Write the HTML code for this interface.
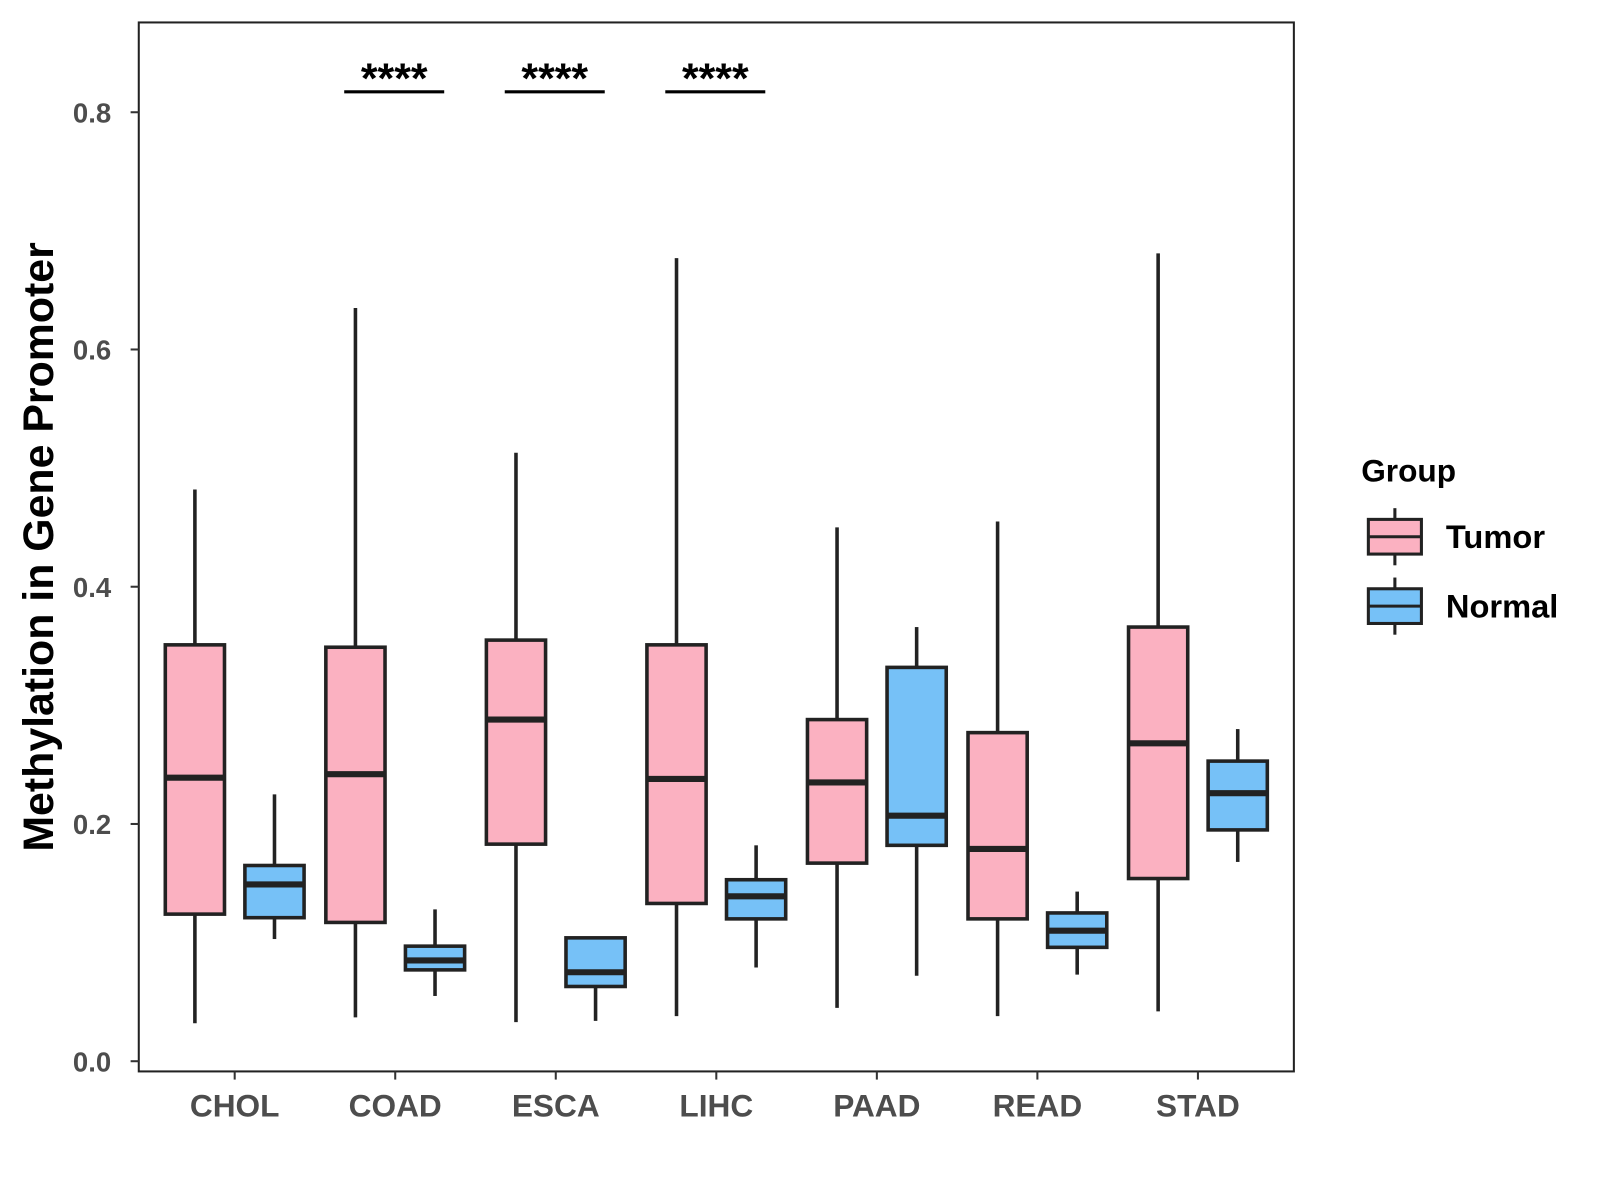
<!DOCTYPE html>
<html><head><meta charset="utf-8"><style>
html,body{margin:0;padding:0;background:#fff;}
svg{display:block;font-family:"Liberation Sans",Arial,sans-serif;font-weight:bold;}
</style></head><body>
<svg width="1600" height="1200" viewBox="0 0 1600 1200"><g id="chart" transform="scale(1.0204)"></g></svg>
<script>
const categories=["CHOL","COAD","ESCA","LIHC","PAAD","READ","STAD"];
const tumorLow=[0.032,0.037,0.033,0.038,0.045,0.038,0.042];
const tumorQ1=[0.124,0.117,0.183,0.133,0.167,0.120,0.154];
const tumorMed=[0.239,0.242,0.288,0.238,0.235,0.179,0.268];
const tumorQ3=[0.351,0.349,0.355,0.351,0.288,0.277,0.366];
const tumorHigh=[0.482,0.635,0.513,0.677,0.450,0.455,0.681];
const normalLow=[0.103,0.055,0.034,0.079,0.072,0.073,0.168];
const normalQ1=[0.121,0.077,0.063,0.120,0.182,0.096,0.195];
const normalMed=[0.149,0.085,0.075,0.139,0.207,0.110,0.226];
const normalQ3=[0.165,0.097,0.104,0.153,0.332,0.125,0.253];
const normalHigh=[0.225,0.128,0.104,0.182,0.366,0.143,0.280];
const yTicks=[0,0.2,0.4,0.6,0.8];
const yTickLabels=["0.0","0.2","0.4","0.6","0.8"];
const sigCategories=["COAD","ESCA","LIHC"];
const sigLabels=["****","****","****"];

const NS="http://www.w3.org/2000/svg";
const svg=document.getElementById("chart");
const y=v=>1040-v*1162.5;
const x=i=>230+i*157.33;
function mk(tag,attrs,parent){const e=document.createElementNS(NS,tag);for(const k in attrs)e.setAttribute(k,attrs[k]);(parent||svg).appendChild(e);return e;}

const panel=mk("rect",{x:136,y:22,width:1132,height:1028,fill:"none",stroke:"#222","stroke-width":2});



yTicks.forEach((t,i)=>{
  const tk=mk("line",{x1:128,x2:136,y1:y(t),y2:y(t),stroke:"#333","stroke-width":2});
  
  
  const lb=mk("text",{x:109,y:y(t)+10,"text-anchor":"end","font-size":27,fill:"#4d4d4d"});
  lb.textContent=yTickLabels[i];
  
  
});
categories.forEach((c,i)=>{
  const tk=mk("line",{x1:x(i),x2:x(i),y1:1050,y2:1058,stroke:"#333","stroke-width":2});
  
  
  const lb=mk("text",{x:x(i),y:1094,"text-anchor":"middle","font-size":31,fill:"#4d4d4d"});
  lb.textContent=c;
  
  
});

function box(cx,lo,q1,md,q3,hi,fill,name){
  const g=mk("g",{});
  
  
  mk("line",{x1:cx,x2:cx,y1:y(hi),y2:y(q3),stroke:"#222","stroke-width":3.5},g);
  mk("line",{x1:cx,x2:cx,y1:y(q1),y2:y(lo),stroke:"#222","stroke-width":3.5},g);
  mk("rect",{x:cx-29,y:y(q3),width:58,height:y(q1)-y(q3),fill:fill,stroke:"#222","stroke-width":3.5},g);
  mk("line",{x1:cx-29,x2:cx+29,y1:y(md),y2:y(md),stroke:"#222","stroke-width":6},g);
}
categories.forEach((c,i)=>{
  box(x(i)-39,tumorLow[i],tumorQ1[i],tumorMed[i],tumorQ3[i],tumorHigh[i],"#fbb1c1","box-tumor-"+c.toLowerCase());
  box(x(i)+39,normalLow[i],normalQ1[i],normalMed[i],normalQ3[i],normalHigh[i],"#76c1f7","box-normal-"+c.toLowerCase());
});
sigCategories.forEach((c,j)=>{
  const i=categories.indexOf(c);
  const l=mk("line",{x1:x(i)-50,x2:x(i)+48,y1:90,y2:90,stroke:"#000","stroke-width":3});
  
  
  const t=mk("text",{x:x(i)-1,y:91,"text-anchor":"middle","font-size":42,fill:"#000"});
  t.textContent=sigLabels[j];
  
  
});
const yt=mk("text",{x:0,y:0,transform:"translate(52,536) rotate(-90)","text-anchor":"middle","font-size":42,fill:"#000"});
yt.textContent="Methylation in Gene Promoter";



const lt=mk("text",{x:1334,y:472,"font-size":31,fill:"#000"});
lt.textContent="Group";


[["Tumor","#fbb1c1",526],["Normal","#76c1f7",594]].forEach(([n,f,cy])=>{
  const g=mk("g",{});
  
  
  mk("line",{x1:1367,x2:1367,y1:cy-28,y2:cy+28,stroke:"#222","stroke-width":3},g);
  mk("rect",{x:1341,y:cy-17,width:52,height:34,fill:f,stroke:"#222","stroke-width":3},g);
  mk("line",{x1:1341,x2:1393,y1:cy,y2:cy,stroke:"#222","stroke-width":3},g);
  const t=mk("text",{x:1417,y:cy+11,"font-size":32,fill:"#000"},g);
  t.textContent=n;
});
</script>
</body></html>
